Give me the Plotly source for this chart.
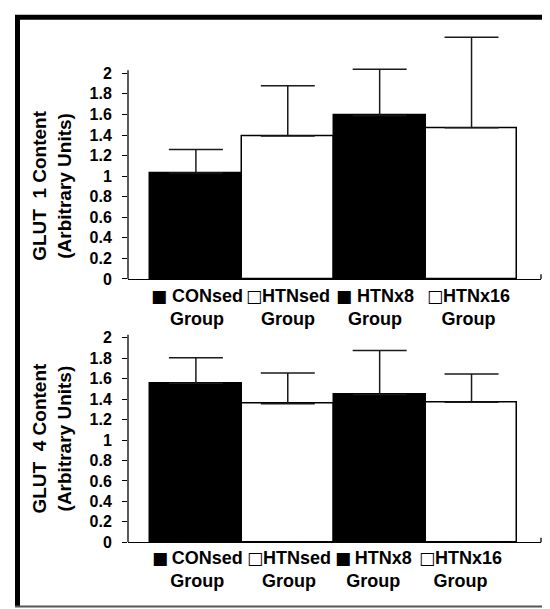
import plotly.graph_objects as go

# ---- data ----
groups = ["CONsed", "HTNsed", "HTNx8", "HTNx16"]
glut1_mean = [1.03, 1.39, 1.59, 1.47]
glut1_err = [0.23, 0.49, 0.45, 0.88]
glut4_mean = [1.555, 1.355, 1.445, 1.37]
glut4_err = [0.25, 0.30, 0.43, 0.275]
bar_colors = ["black", "white", "black", "white"]
legend_marks = ["\u25a0", "\u25a1", "\u25a0", "\u25a1"]
legend_second = "Group"
y_ticks = [0, 0.2, 0.4, 0.6, 0.8, 1, 1.2, 1.4, 1.6, 1.8, 2]
y_ticktext = ["0", "0.2", "0.4", "0.6", "0.8", "1", "1.2", "1.4", "1.6", "1.8", "2"]
title1 = ["GLUT\u00a0 1 Content", "(Arbitrary Units)"]
title4 = ["GLUT\u00a0 4 Content", "(Arbitrary Units)"]

W, H = 550, 609
FONT = "Liberation Sans, Arial, sans-serif"

def px(x):
    return x / W

def py(y):
    return 1 - y / H

fig = go.Figure()

for means, errs, xa, ya in [(glut1_mean, glut1_err, "x", "y"), (glut4_mean, glut4_err, "x2", "y2")]:
    fig.add_trace(go.Bar(
        x=groups, y=means, width=1,
        marker=dict(color=bar_colors, line=dict(color="black", width=1.5)),
        error_y=dict(type="data", symmetric=False, array=errs,
                     arrayminus=[0] * len(errs), color="#1a1a1a",
                     thickness=1.5, width=27),
        xaxis=xa, yaxis=ya, showlegend=False, hoverinfo="skip",
    ))

xdom = [px(120), px(533)]
xrange_ = [-0.739, 3.756]
y1dom = [py(275), py(275 - 2.4 * 104.35)]
y2dom = [py(542.3), py(542.3 - 2.1 * 103.8)]

tickfont = dict(family=FONT, size=16, color="black", weight="bold")

common_x = dict(range=xrange_, domain=xdom, showline=True, linecolor="black",
                linewidth=1.3, ticks="", showticklabels=False, showgrid=False,
                zeroline=False, fixedrange=True)
common_y = dict(tickvals=y_ticks, ticktext=y_ticktext, ticks="outside",
                ticklen=5, tickwidth=1.2, tickcolor="black", showgrid=False,
                zeroline=False, showline=False, tickfont=tickfont,
                ticklabelstandoff=7, fixedrange=True)
inner_y = dict(tickvals=y_ticks, ticks="inside", ticklen=5, tickwidth=1.2,
               tickcolor="black", showticklabels=False, showgrid=False,
               zeroline=False, showline=False, fixedrange=True)

fig.update_layout(
    width=W, height=H,
    margin=dict(l=0, r=0, t=0, b=0),
    paper_bgcolor="white", plot_bgcolor="rgba(0,0,0,0)",
    xaxis=dict(anchor="y", **common_x),
    xaxis2=dict(anchor="y2", **common_x),
    yaxis=dict(anchor="x", domain=y1dom, range=[0, 2.4], **common_y),
    yaxis2=dict(anchor="x2", domain=y2dom, range=[0, 2.1], **common_y),
    yaxis3=dict(anchor="x", overlaying="y", range=[0, 2.4], **inner_y),
    yaxis4=dict(anchor="x2", overlaying="y2", range=[0, 2.1], **inner_y),
    bargap=0,
)

shapes = []
for xr, yr, top in [("x", "y", 2.03), ("x2", "y2", 2.03)]:
    shapes.append(dict(type="line", xref=xr + " domain", yref=yr, x0=0, x1=0,
                       y0=0, y1=top, line=dict(color="black", width=1.3)))
    shapes.append(dict(type="line", xref=xr + " domain", yref=yr, x0=1, x1=1,
                       y0=-0.045, y1=0.045, line=dict(color="black", width=1.3)))

# outer frame
shapes.append(dict(type="line", xref="paper", yref="paper", x0=px(9.5), x1=px(9.5),
                   y0=py(7), y1=py(608), line=dict(color="black", width=5)))
shapes.append(dict(type="line", xref="paper", yref="paper", x0=px(7), x1=px(548.5),
                   y0=py(9.5), y1=py(9.5), line=dict(color="black", width=5)))
shapes.append(dict(type="line", xref="paper", yref="paper", x0=px(548), x1=px(548),
                   y0=py(7), y1=py(608), line=dict(color="#555555", width=1.5)))
shapes.append(dict(type="line", xref="paper", yref="paper", x0=px(7), x1=px(548.5),
                   y0=py(607.5), y1=py(607.5), line=dict(color="#555555", width=2)))
fig.update_layout(shapes=shapes)

annotations = []
legfont = dict(family=FONT, size=18, color="black", weight="bold")
top_sep = [" ", "", " ", ""]
bot_sep = ["\u2009", "", "\u2009", ""]
top_shift = [1, 0, -5, -3]
bot_shift = [2, 1, -6, -11]
SQ = '<span style="font-family:DejaVu Sans;font-size:17px">{}</span>'
for i, g in enumerate(groups):
    lab_top = SQ.format(legend_marks[i]) + top_sep[i] + g + "<br>" + legend_second
    lab_bot = SQ.format(legend_marks[i]) + bot_sep[i] + g + "<br>" + legend_second
    annotations.append(dict(text=lab_top, xref="x", yref="paper", x=g,
                            y=py(303.75), xshift=top_shift[i], showarrow=False,
                            font=legfont, align="center", yanchor="middle"))
    annotations.append(dict(text=lab_bot, xref="x2", yref="paper", x=g,
                            y=py(570), xshift=bot_shift[i], showarrow=False,
                            font=legfont, align="center", yanchor="middle"))

titlefont = dict(family=FONT, size=19, color="black", weight="bold")
for lines, yc in [(title1, 180.5), (title4, 437)]:
    annotations.append(dict(text="<br>".join(lines), xref="paper", yref="paper",
                            x=px(44), y=py(yc), textangle=-90, showarrow=False,
                            font=titlefont, align="center",
                            xanchor="center", yanchor="middle"))
fig.update_layout(annotations=annotations)

fig.write_html("out.html")
